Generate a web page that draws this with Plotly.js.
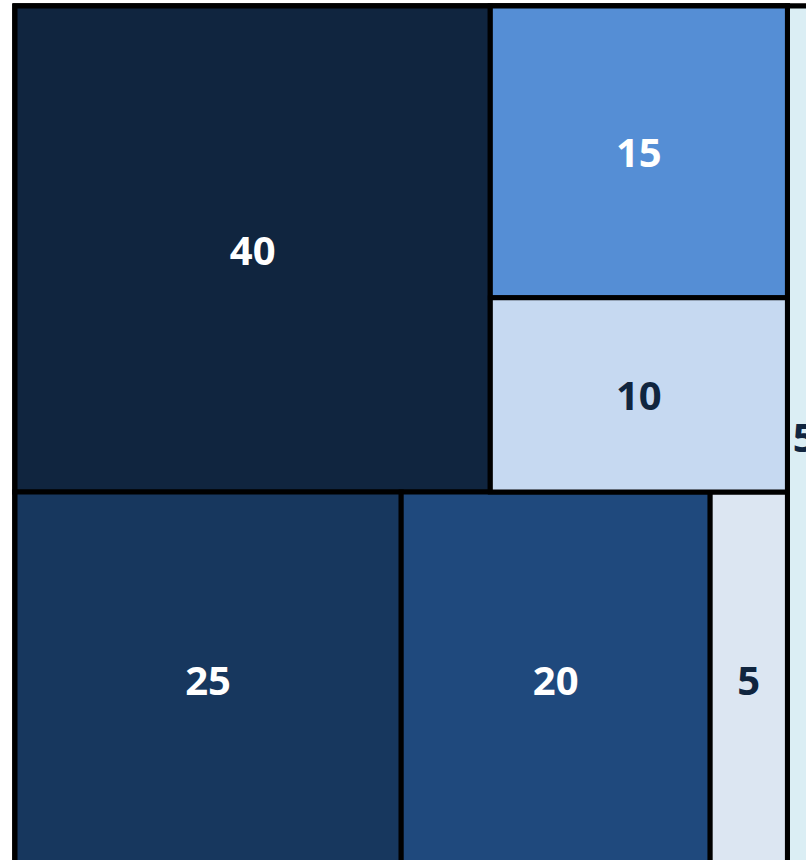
<!DOCTYPE html>
<html>
<head>
<meta charset="utf-8">
<script src="https://cdn.plot.ly/plotly-3.0.1.min.js"></script>
<style>
html, body { margin: 0; padding: 0; overflow: hidden; background: #ffffff; }
#chart { width: 840px; height: 880px; }
</style>
</head>
<body>
<div id="chart"></div>
<script>
// Hierarchy (ids / parents) and leaf values
var ids     = ['root', 'main', 'top', 'c40', 'col', 'c15', 'c10', 'bottom', 'c25', 'c20', 'c5a', 'c5b'];
var parents = ['',     'root', 'main', 'top', 'top', 'col', 'col', 'main',  'bottom', 'bottom', 'bottom', 'root'];
var values  = [0, 0, 0, 40, 0, 15, 10, 0, 25, 20, 5, 5];
var labels  = ['', '', '', '40', '', '15', '10', '', '25', '20', '5', '5'];

var cellColors = ['#ffffff', '#ffffff', '#ffffff', '#10253F', '#ffffff', '#558ED5', '#C6D9F1',
                  '#ffffff', '#17375E', '#1F497D', '#DCE6F2', '#DBEEF4'];
var textColors = ['#ffffff', '#ffffff', '#ffffff', '#ffffff', '#ffffff', '#ffffff', '#10253F',
                  '#ffffff', '#ffffff', '#ffffff', '#10253F', '#10253F'];

var trace = {
  type: 'treemap',
  ids: ids,
  parents: parents,
  values: values,
  labels: ids,
  text: labels,
  textinfo: 'text',
  branchvalues: 'remainder',
  sort: false,
  textposition: 'middle center',
  textfont: { family: 'Open Sans, sans-serif', size: 40, color: textColors, weight: 'bold' },
  marker: {
    colors: cellColors,
    line: { color: '#000000', width: 5 },
    pad: { t: 0, l: 0, r: 0, b: 0 }
  },
  tiling: { packing: 'slice-dice', pad: 0 },
  pathbar: { visible: false },
  hoverinfo: 'none'
};

var layout = {
  width: 840,
  height: 880,
  margin: { l: 15, r: 19, t: 6, b: 14 },
  paper_bgcolor: '#ffffff',
  showlegend: false
};

Plotly.newPlot('chart', [trace], layout, { displayModeBar: false, staticPlot: true });
</script>
</body>
</html>
